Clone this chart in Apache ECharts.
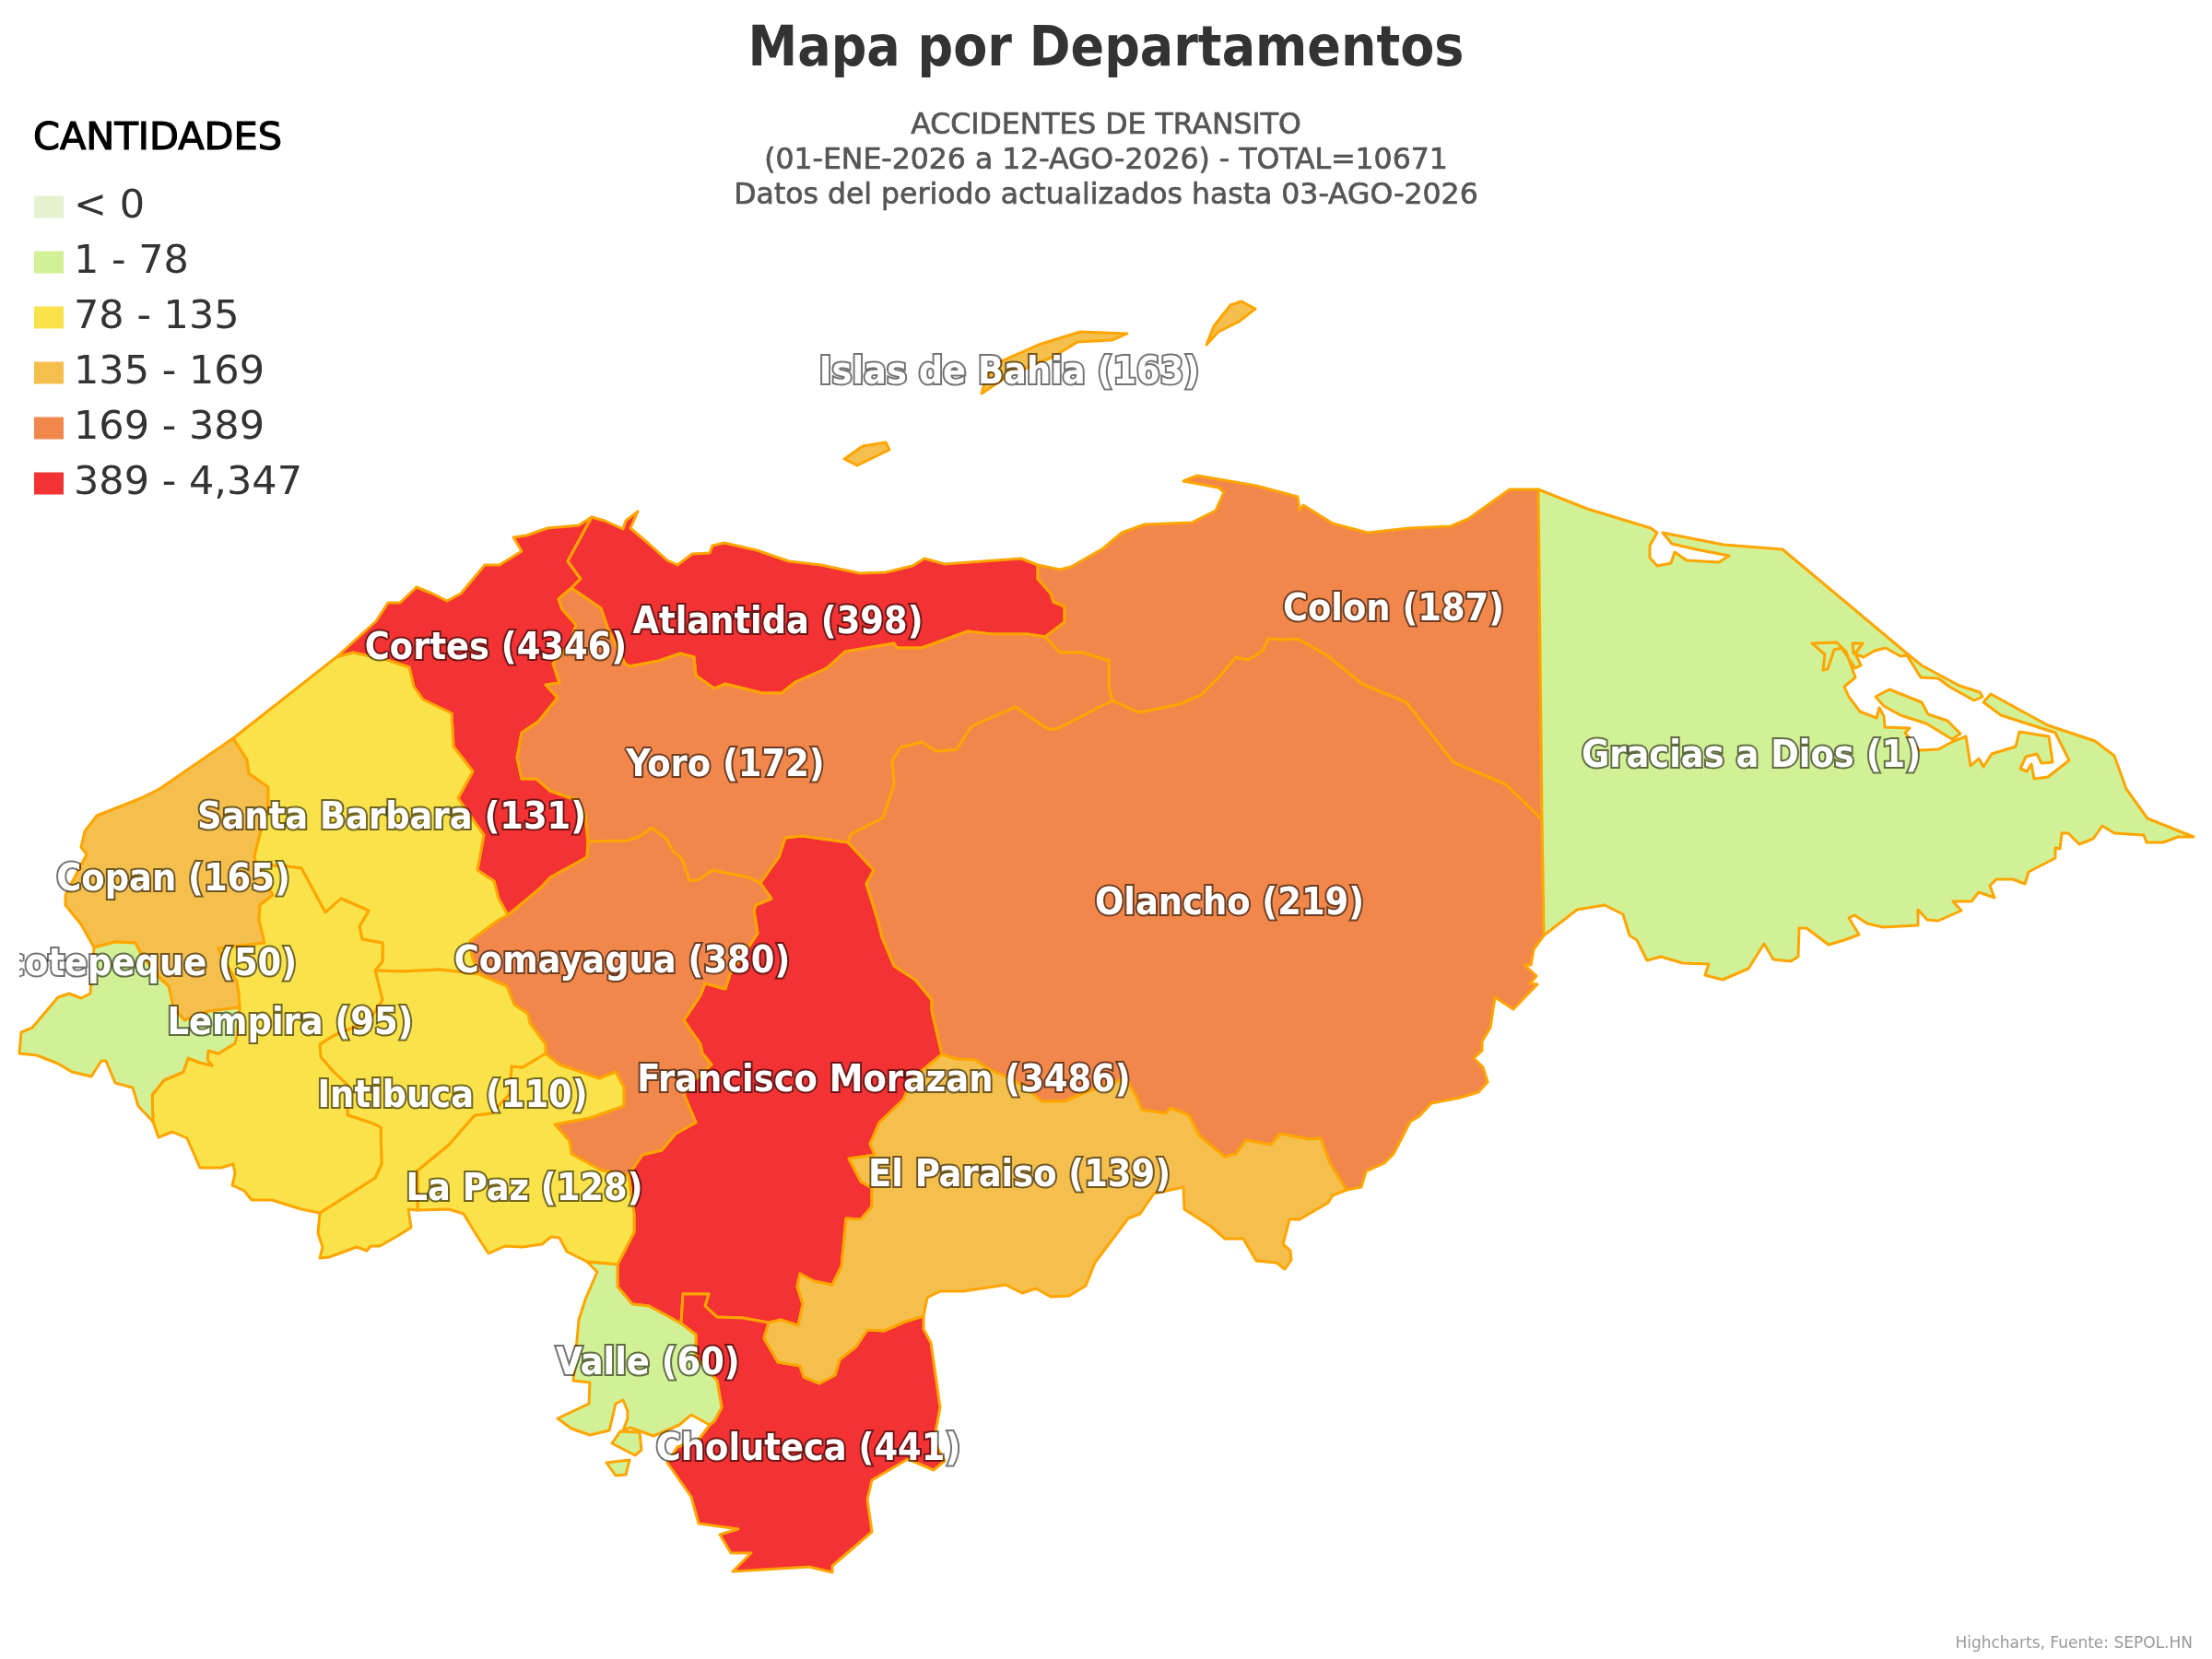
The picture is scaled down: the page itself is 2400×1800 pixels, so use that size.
<!DOCTYPE html>
<html><head><meta charset="utf-8">
<style>html,body{margin:0;padding:0;background:#fff}#c{width:2400px;height:1800px}</style>
<script src="https://cdn.jsdelivr.net/npm/echarts@6/dist/echarts.min.js"></script>
</head><body><div id="c"></div>
<script>
// ---------- data ----------
const departments = ["Cortes","Francisco Morazan","Choluteca","Atlantida","Comayagua","Olancho","Colon","Yoro","Copan","Islas de Bahia","El Paraiso","Santa Barbara","La Paz","Intibuca","Lempira","Valle","Ocotepeque","Gracias a Dios"];
const accidents   = [4346,3486,441,398,380,219,187,172,165,163,139,131,128,110,95,60,50,1];
const legendLabels = ["< 0","1 - 78","78 - 135","135 - 169","169 - 389","389 - 4,347"];
const legendMins   = [null,1,78,135,169,389];
const legendMaxes  = [0,78,135,169,389,4347];
const legendColors = ["#e5f2cf","#d2f096","#f9e24a","#f4bf4d","#f2874c","#f33233"];

// ---------- department outlines (traced boundary chains, in map units) ----------
const cSBCoast="365,713 253,801";
const cCopCoast="253,801 173,856 153,866 105,885 92,902 88,919 94,927 71,971 71,982 88,1003 102,1028";
const cCorCoast="365,713 408,674 421,654 434,654 452,637 469,644 485,652 500,644 526,613 542,613 566,598 557,583 571,581 594,573 628,570 642,561";
const cAtlCoast="642,561 656,565 676,574 679,565 692,555 684,573 704,590 724,608 735,613 751,601 770,600 773,592 786,589 821,597 856,609 891,613 933,622 961,621 990,614 1003,606 1025,612 1108,606 1126,613";
const cColCoast="1126,613 1150,618 1162,615 1197,595 1217,578 1242,569 1293,567 1319,554 1328,534 1322,529 1284,522 1299,516 1363,527 1408,539 1410,554 1414,548 1446,568 1484,578 1529,573 1574,571 1593,563 1638,531 1669,531";
const cGraCoast="1669,531 1722,552 1791,573 1798,578 1790,592 1790,605 1798,614 1813,611 1817,599 1830,608 1865,610 1876,603 1840,596 1814,590 1804,578 1870,591 1934,596 2069,709 2085,722 2126,744 2148,751 2151,756 2142,760 2115,745 2103,736 2084,735 2069,711 2062,712 2046,703 2034,706 2022,713 2011,709 2010,698 2021,698 2013,709 2019,722 2013,725 1998,703 1990,705 1983,726 1978,727 1980,710 1966,698 1993,697 2003,707 2013,735 2001,745 2006,756 2018,772 2036,779 2039,768 2044,777 2045,789 2072,790 2067,795 2082,814 2103,813 2118,805 2133,799 2138,831 2147,823 2152,832 2161,818 2187,810 2191,794 2223,799 2227,827 2215,828 2210,818 2198,821 2192,834 2199,837 2204,829 2207,845 2222,843 2245,825 2230,795 2171,776 2152,762 2160,753 2222,787 2273,804 2294,820 2307,856 2330,888 2380,908 2363,908 2347,914 2329,914 2326,906 2294,904 2281,896 2271,910 2256,916 2244,904 2237,904 2235,921 2230,920 2230,931 2201,946 2197,959 2184,954 2166,954 2159,961 2164,974 2147,968 2139,978 2119,978 2128,988 2103,999 2091,998 2081,987 2081,1004 2043,1006 2026,1002 2012,993 2006,996 2017,1014 2001,1020 1984,1025 1960,1007 1952,1007 1951,1038 1943,1043 1924,1041 1914,1024 1897,1051 1869,1063 1850,1058 1854,1046 1826,1045 1802,1038 1787,1042 1776,1020 1768,1015 1761,992 1741,982 1711,987 1675,1015";
const cOlaCoast="1675,1015 1664,1030 1661,1047 1654,1047 1667,1059 1660,1067 1668,1068 1642,1095 1622,1082 1617,1115 1608,1130 1608,1140 1599,1148 1609,1158 1614,1174 1604,1185 1584,1191 1553,1197 1540,1211 1530,1217 1512,1252 1502,1262 1482,1271 1477,1288 1461,1291";
const cParCoast="1461,1291 1446,1297 1441,1305 1410,1323 1399,1323 1392,1350 1400,1357 1401,1367 1394,1377 1385,1370 1363,1368 1349,1344 1329,1344 1313,1330 1285,1312 1284,1288 1252,1295 1237,1317 1224,1322 1188,1370 1178,1395 1160,1406 1140,1407 1124,1398 1109,1403 1091,1394 1045,1401 1020,1401 1006,1408 1002,1428";
const cChoCoast="770,1546 758,1562 735,1570 724,1587 750,1624 758,1653 801,1659 781,1665 793,1685 815,1685 795,1705 878,1700 903,1706 903,1699 946,1662 941,1627 946,1606 985,1583 1013,1595 1025,1585 1013,1564 1020,1527 1010,1457 1002,1442 1002,1428";
const cValCoast="637,1369 648,1380 635,1410 628,1432 622,1498 640,1500 639,1523 605,1539 620,1550 640,1557 661,1552 668,1523 676,1519 681,1531 681,1539 676,1552 684,1549 709,1558 737,1546 750,1535 770,1546";
const cLPCoast="637,1369 615,1358 607,1343 598,1342 588,1350 567,1353 548,1352 530,1360 517,1340 503,1317 487,1312 453,1313";
const cIntCoast="347,1316 345,1338 350,1353 347,1365 357,1364 387,1353 398,1357 402,1352 412,1352 428,1343 446,1332 443,1312 453,1313";
const cLemCoast="166,1217 172,1234 187,1228 203,1235 217,1267 240,1267 253,1263 255,1273 252,1286 265,1292 273,1302 295,1302 327,1312 347,1316";
const cOcoCoast="166,1217 150,1200 144,1180 125,1175 115,1151 110,1151 99,1168 78,1163 63,1154 40,1145 21,1143 23,1120 35,1115 63,1082 75,1078 88,1083 98,1078 100,1050 102,1028";
const bColGra="1669,531 1673,889";
const bOlaGra="1673,889 1675,1015";
const bOlaPar="1461,1291 1443,1262 1433,1235 1420,1236 1389,1230 1379,1242 1352,1237 1341,1252 1329,1255 1313,1242 1301,1232 1290,1210 1270,1202 1265,1208 1239,1204 1232,1188 1221,1170 1178,1185 1155,1195 1130,1195 1114,1180 1089,1167 1073,1160 1058,1150 1038,1149 1022,1144";
const bParCho="1002,1428 982,1434 959,1444 941,1443 929,1461 911,1475 906,1492 889,1501 872,1494 868,1482 844,1478 829,1452 834,1435";
const bParFM="834,1435 847,1432 866,1438 871,1415 865,1396 868,1382 883,1390 903,1394 913,1374 918,1322 934,1323 946,1309 946,1289 934,1282 921,1257 949,1253 944,1241 954,1218 980,1193 990,1170 1022,1144";
const bFMCho="834,1435 806,1430 778,1429 765,1417 769,1404 741,1404 739,1436";
const bFMVal="739,1436 719,1425 704,1417 686,1415 670,1396 670,1372";
const bValCho="739,1436 755,1448 755,1473 778,1498 783,1527 775,1542 770,1546";
const bLPVal="670,1372 637,1369";
const bLPFM="682,1275 688,1317 688,1337 670,1372";
const bComFM="825,958 837,975 820,982 818,988 822,1013 792,1057 787,1073 765,1067 760,1080 742,1107 760,1133 762,1143 772,1155 750,1175 742,1187 755,1218 733,1230 718,1248 697,1253 682,1275";
const bLPCom="592,1143 607,1155 650,1170 668,1163 677,1180 677,1200 640,1213 602,1220 618,1238 620,1252 653,1270 682,1275";
const bIntLP="453,1313 453,1270 487,1242 515,1210 533,1208 553,1187 555,1157 567,1158 592,1143";
const bIntCom="592,1143 592,1133 575,1110 573,1100 558,1090 550,1070 520,1057";
const bSBInt="520,1057 477,1052 437,1054 407,1053";
const bSBCom="551,993 541,998 510,1021 512,1038 520,1057";
const bSBCor="365,713 383,708 420,716 444,724 449,745 459,759 490,774 492,810 513,837 497,866 525,906 518,944 536,956 541,975 551,993";
const bCorCom="551,993 587,963 597,952 637,930 638,913";
const bYorCor="620,638 606,650 610,661 625,678 618,700 600,720 607,741 592,743 605,757 584,783 566,795 561,822 566,845 582,845 597,858 625,868 635,883 638,913";
const bYorCom="638,913 680,912 695,907 707,898 723,910 730,923 740,932 748,955 757,955 773,944 813,952 825,958";
const bAtlCor="642,561 616,609 630,628 620,638";
const bAtlYor="620,638 652,660 660,683 678,720 683,723 715,717 738,709 753,713 755,733 775,747 787,742 827,752 848,752 863,740 897,725 917,707 970,698 973,703 1000,703 1050,685 1076,688 1115,688 1134,691";
const bAtlCol="1126,613 1126,628 1140,644 1143,653 1155,658 1155,675 1134,691";
const bYorCol="1134,691 1150,708 1175,708 1203,717 1203,746 1207,760";
const bColOla="1207,760 1236,773 1280,764 1303,754 1322,735 1341,713 1354,716 1370,706 1376,693 1392,694 1408,693 1440,711 1478,742 1526,762 1577,827 1634,851 1673,889";
const bYorOla="1207,760 1146,791 1137,791 1102,767 1054,788 1038,813 1016,815 1000,805 977,811 968,825 970,851 958,887 923,905 920,914";
const bYorFM="920,914 870,907 852,909 845,930 825,958";
const bFMOla="920,914 948,944 940,959 952,997 957,1017 970,1048 993,1063 1011,1085 1011,1097 1022,1144";
const bIntLem="407,1053 415,1085 400,1108 363,1123 347,1133 348,1147 362,1163 377,1177 377,1210 402,1218 413,1223 414,1263 407,1278 377,1297 347,1316";
const bLemOco="260,1093 257,1123 255,1132 237,1143 226,1140 225,1150 230,1156 217,1153 204,1148 199,1163 178,1172 165,1188 166,1217";
const bCopOco="260,1093 227,1097 200,1107 188,1093 183,1070 175,1063 153,1035 147,1023 125,1022 102,1028";
const bCopLem="278,938 296,971 282,982 281,998 287,1023 237,1029 245,1045 257,1065 259,1077 260,1093";
const bSBLem="407,1053 415,1043 415,1023 393,1019 390,1005 400,988 370,975 353,990 327,942 311,940 278,938";
const bSBCop="253,801 268,824 270,839 291,854 291,875 283,902 276,929 278,938";
const iGracias="2035,756 2050,748 2085,762 2092,775 2113,782 2127,796 2118,802 2090,785 2062,776 2044,766";
const iValle1="664,1566 673,1553 694,1554 696,1573 689,1579";
const iValle2="658,1587 683,1584 679,1600 668,1601";
const iBahia1="1309,374 1317,354 1335,331 1347,327 1362,335 1344,349 1322,360";
const iBahia2="1065,427 1070,409 1086,392 1127,374 1172,360 1223,362 1207,369 1169,371 1143,387 1095,407";
const iBahia3="916,498 936,484 961,480 965,488 930,505";

const f=s=>s.split(' ').map(p=>{const a=p.split(',').map(Number);return [a[0],-a[1]];});
const r=s=>f(s).reverse();
const ring=(...parts)=>{const o=[];parts.forEach(p=>{const a=typeof p==='string'?f(p):p;a.forEach(q=>{const l=o[o.length-1];if(!l||l[0]!==q[0]||l[1]!==q[1])o.push(q);});});const a=o[0],b=o[o.length-1];if(a[0]!==b[0]||a[1]!==b[1])o.push(a);return o;};

const shapes={
 "Copan":[ring(cCopCoast,r(bCopOco),r(bCopLem),r(bSBCop))],
 "Ocotepeque":[ring(bLemOco,cOcoCoast,r(bCopOco))],
 "Lempira":[ring(bSBLem,bCopLem,bLemOco,cLemCoast,r(bIntLem))],
 "Santa Barbara":[ring(cSBCoast,bSBCop,r(bSBLem),r(bSBInt),r(bSBCom),r(bSBCor))],
 "Intibuca":[ring(bIntLem,cIntCoast,bIntLP,bIntCom,bSBInt)],
 "La Paz":[ring(r(bIntLP),r(cLPCoast),r(bLPVal),r(bLPFM),r(bLPCom))],
 "Comayagua":[ring(bCorCom,bYorCom,bComFM,r(bLPCom),bIntCom,r(bSBCom))],
 "Cortes":[ring(cCorCoast,bAtlCor,bYorCor,r(bCorCom),r(bSBCor))],
 "Atlantida":[ring(cAtlCoast,bAtlCol,r(bAtlYor),r(bAtlCor))],
 "Yoro":[ring(bAtlYor,bYorCol,bYorOla,bYorFM,r(bYorCom),r(bYorCor))],
 "Colon":[ring(cColCoast,bColGra,r(bColOla),r(bYorCol),r(bAtlCol))],
 "Olancho":[ring(bColOla,bOlaGra,cOlaCoast,bOlaPar,r(bFMOla),r(bYorOla))],
 "Gracias a Dios":[ring(cGraCoast,r(bOlaGra),r(bColGra)),ring(iGracias)],
 "El Paraiso":[ring(bParFM,r(bOlaPar),cParCoast,bParCho)],
 "Francisco Morazan":[ring(bYorFM,bComFM,bLPFM,r(bFMVal),r(bFMCho),bParFM,r(bFMOla))],
 "Valle":[ring(bFMVal,bLPVal,cValCoast,r(bValCho)),ring(iValle1),ring(iValle2)],
 "Choluteca":[ring(bFMCho,bValCho,cChoCoast,bParCho)],
 "Islas de Bahia":[ring(iBahia1),ring(iBahia2),ring(iBahia3)]
};
const labelAnchors={"Cortes":[538,704],"Atlantida":[844,676],"Yoro":[787,831],"Colon":[1512,662],"Gracias a Dios":[1900,821],"Santa Barbara":[425,888],"Copan":[188,955],"Ocotepeque":[148,1047],"Lempira":[315,1111],"Comayagua":[675,1044],"Intibuca":[491,1190],"La Paz":[569,1291],"Francisco Morazan":[959,1173],"Olancho":[1334,981],"El Paraiso":[1106,1276],"Valle":[703,1480],"Choluteca":[877,1573],"Islas de Bahia":[1095,405]};

const geojson={type:"FeatureCollection",features:departments.map(n=>({type:"Feature",properties:{name:n,cp:[labelAnchors[n][0],-labelAnchors[n][1]]},geometry:{type:"MultiPolygon",coordinates:shapes[n].map(p=>[p])}}))};
echarts.registerMap("HN",geojson);

const FONT="'DejaVu Sans Condensed','DejaVu Sans',sans-serif";
const WIDE="'DejaVu Sans',sans-serif";
const chart=echarts.init(document.getElementById('c'),null,{renderer:'canvas'});
chart.setOption({
 animation:false,
 backgroundColor:'#fff',
 title:[
  {text:"Mapa por Departamentos",left:1200,top:25,padding:0,textAlign:'center',textStyle:{fontFamily:FONT,fontSize:60,fontWeight:'bold',color:'#333'}},
  {text:"ACCIDENTES DE TRANSITO\n(01-ENE-2026 a 12-AGO-2026) - TOTAL=10671\nDatos del periodo actualizados hasta 03-AGO-2026",left:1200,top:118,padding:0,textAlign:'center',textStyle:{fontFamily:WIDE,fontSize:31.5,fontWeight:'normal',color:'#555',lineHeight:38,textBorderColor:'#555',textBorderWidth:0.7}},
  {text:"CANTIDADES",left:36,top:130,padding:0,textStyle:{fontFamily:WIDE,fontSize:41.5,fontWeight:'normal',color:'#000',textBorderColor:'#000',textBorderWidth:1.2}},
  {text:"Highcharts, Fuente: SEPOL.HN",right:21,top:1775,padding:0,textStyle:{fontFamily:WIDE,fontSize:17,fontWeight:'normal',color:'#999'}}
 ],
 visualMap:{
  type:'piecewise',left:37,top:203,padding:0,orient:'vertical',inverse:true,itemWidth:32,itemHeight:24,itemGap:17,textGap:11,
  selectedMode:false,hoverLink:false,showLabel:true,align:'left',itemSymbol:'rect',
  textStyle:{fontFamily:WIDE,fontSize:43,color:'#333'},
  pieces:legendLabels.map((l,i)=>{const p={label:l,color:legendColors[i]};if(legendMins[i]!==null)p.gte=legendMins[i];p.lte=legendMaxes[i];return p;})
 },
 series:[{
  type:'map',map:'HN',roam:false,aspectScale:1,left:21,top:327,width:2359,height:1379,silent:true,selectedMode:false,
  itemStyle:{borderColor:'#ffa500',borderWidth:3,borderJoin:'round',areaColor:'#eee'},
  label:{show:true,formatter:p=>p.name+' ('+p.value+')',fontFamily:FONT,fontSize:41,fontWeight:'bold',color:'#fff',textBorderColor:'rgba(0,0,0,0.55)',textBorderWidth:4},
  emphasis:{disabled:true},
  data:departments.map((n,i)=>({name:n,value:accidents[i]}))
 }],
 graphic:[{type:'rect',shape:{x:0,y:1000,width:21,height:90},style:{fill:'#fff'},z:1000,silent:true}]
});
</script></body></html>
